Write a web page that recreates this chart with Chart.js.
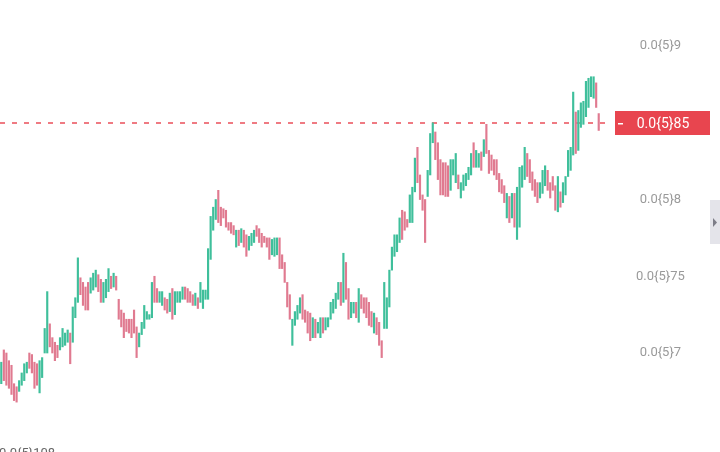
<!DOCTYPE html>
<html>
<head>
<meta charset="utf-8">
<script src="https://cdn.jsdelivr.net/npm/chart.js@4/dist/chart.umd.min.js"></script>
<style>
  html, body { margin: 0; padding: 0; background: #fff; }
  canvas { display: block; }
</style>
</head>
<body>
<canvas id="chart" width="720" height="452"></canvas>
<script>
// prices in units of 1e-6 (0.0{5}85 = 0.0000085)
const highs = [
  6.94,7.02,7.00,6.95,6.92,6.80,6.78,6.82,6.87,6.93,6.94,7.00,6.99,6.94,6.93,6.95,6.97,7.16,7.40,7.19,
  7.10,7.07,7.05,7.10,7.16,7.13,7.15,7.13,7.30,7.36,7.62,7.49,7.46,7.43,7.46,7.49,7.52,7.54,7.51,7.48,
  7.46,7.48,7.55,7.50,7.52,7.50,7.35,7.28,7.26,7.22,7.22,7.22,7.28,7.17,7.13,7.20,7.31,7.27,7.25,7.46,
  7.50,7.42,7.40,7.40,7.36,7.35,7.39,7.42,7.40,7.40,7.40,7.43,7.43,7.42,7.40,7.38,7.39,7.36,7.46,7.41,
  7.41,7.68,7.89,7.95,8.00,8.06,7.95,7.94,7.93,7.85,7.85,7.83,7.80,7.80,7.81,7.80,7.77,7.76,7.78,7.80,
  7.83,7.81,7.78,7.76,7.75,7.75,7.74,7.75,7.75,7.75,7.64,7.59,7.46,7.38,7.22,7.27,7.31,7.36,7.38,7.28,
  7.27,7.26,7.23,7.22,7.20,7.23,7.23,7.23,7.23,7.33,7.35,7.39,7.46,7.46,7.65,7.59,7.42,7.33,7.33,7.33,
  7.42,7.38,7.36,7.36,7.33,7.27,7.26,7.23,7.20,7.08,7.46,7.36,7.54,7.69,7.77,7.77,7.88,7.93,7.92,7.87,
  8.03,8.08,8.27,8.34,8.16,8.03,8.00,8.19,8.43,8.50,8.44,8.37,8.26,8.24,8.24,8.22,8.26,8.26,8.30,8.16,
  8.11,8.16,8.17,8.21,8.30,8.37,8.32,8.30,8.31,8.39,8.49,8.32,8.29,8.26,8.26,8.17,8.13,8.09,8.04,8.02,
  8.04,8.04,8.08,8.21,8.22,8.34,8.30,8.26,8.18,8.13,8.11,8.11,8.19,8.22,8.19,8.11,8.15,8.09,8.15,8.05,
  8.11,8.15,8.32,8.34,8.70,8.57,8.58,8.63,8.64,8.77,8.79,8.80,8.80,8.76,8.56
];
const lows = [
  6.80,6.82,6.79,6.77,6.73,6.69,6.68,6.75,6.79,6.82,6.87,6.90,6.87,6.77,6.79,6.74,6.84,7.00,7.00,7.04,
  7.00,6.95,6.97,7.02,7.04,7.05,7.07,6.93,7.07,7.23,7.33,7.38,7.31,7.28,7.28,7.39,7.41,7.43,7.40,7.33,
  7.33,7.36,7.40,7.42,7.43,7.41,7.22,7.17,7.10,7.14,7.13,7.10,7.13,6.97,7.04,7.12,7.16,7.22,7.22,7.23,
  7.33,7.33,7.33,7.31,7.28,7.26,7.27,7.22,7.25,7.33,7.33,7.35,7.35,7.33,7.33,7.31,7.31,7.29,7.33,7.29,
  7.35,7.35,7.61,7.80,7.87,7.85,7.83,7.88,7.82,7.80,7.78,7.77,7.69,7.70,7.72,7.69,7.63,7.67,7.70,7.72,
  7.76,7.72,7.69,7.72,7.69,7.61,7.64,7.63,7.64,7.55,7.55,7.46,7.30,7.22,7.05,7.18,7.22,7.26,7.22,7.20,
  7.13,7.08,7.10,7.10,7.13,7.10,7.13,7.15,7.17,7.22,7.26,7.29,7.35,7.31,7.33,7.35,7.22,7.23,7.26,7.23,
  7.20,7.29,7.26,7.23,7.18,7.17,7.13,7.12,7.05,6.97,7.16,7.16,7.30,7.54,7.63,7.66,7.72,7.74,7.80,7.82,
  7.85,7.85,8.05,8.11,8.00,7.93,7.72,8.02,8.16,8.37,8.26,8.13,8.03,8.03,8.02,8.02,8.06,8.16,8.11,8.07,
  8.01,8.06,8.09,8.13,8.16,8.21,8.21,8.21,8.19,8.28,8.30,8.17,8.19,8.16,8.13,8.05,8.04,7.98,7.88,7.85,
  7.88,7.82,7.74,7.82,8.08,8.13,8.15,8.11,8.06,8.02,7.98,8.01,8.04,8.09,8.06,8.01,8.06,7.93,7.92,7.95,
  7.98,8.03,8.15,8.19,8.29,8.30,8.32,8.47,8.49,8.54,8.60,8.67,8.66,8.60,8.45
];
// u = closed up (green), d = closed down (red)
const direction = (
  "udddddduuuudddduuuud" + "ddduuuuduuudddduuudd" + "uuududdddddddduuuuuu" +
  "dduudduduuuudddduduu" + "uuuuudddddddududduuu" + "dddddduuuddddduuuudd" +
  "dduduuduuuuuududduud" + "uddddduddduuuuuuuddd" + "uuudddduuudddddduuud" +
  "uuuuuduududdddddddud" + "uduuuuddddduuuddddud" + "uuuuuduuuuuuudd"
).split("");

const tickValues = [7, 7.5, 8, 9];
const lastPrice = 8.5;

const upColor = "#3fbf9b";
const downColor = "#e07a90";

function fmt(v) {
  return "0.0{5}" + String(v).replace(".", "");
}

const overlay = {
  id: "overlay",
  beforeDatasetsDraw(chart) {
    const { ctx, scales: { y } } = chart;
    const py = Math.round(y.getPixelForValue(lastPrice));
    ctx.save();
    ctx.strokeStyle = "#ea4f5a";
    ctx.lineWidth = 1.5;
    ctx.setLineDash([5, 7]);
    ctx.beginPath();
    ctx.moveTo(0, py);
    ctx.lineTo(608, py);
    ctx.stroke();
    ctx.restore();
  },
  afterDraw(chart) {
    const { ctx, scales: { y } } = chart;
    const py = Math.round(y.getPixelForValue(lastPrice));
    ctx.save();
    // current price label
    ctx.fillStyle = "#e8454f";
    ctx.fillRect(615, py - 12, 95, 24);
    ctx.fillStyle = "#fff";
    ctx.fillRect(618, py, 5, 1.5);
    ctx.font = "14px Roboto";
    ctx.textAlign = "center";
    ctx.textBaseline = "middle";
    ctx.fillText(fmt(lastPrice), 663, py + 1);
    // little scroll tab at the right edge
    ctx.fillStyle = "#e4e4ea";
    ctx.fillRect(710, 200, 10, 44);
    ctx.fillStyle = "#7d7d88";
    ctx.beginPath();
    ctx.moveTo(713, 218);
    ctx.lineTo(717, 222.5);
    ctx.lineTo(713, 227);
    ctx.closePath();
    ctx.fill();
    // cut-off label at the bottom
    ctx.fillStyle = "#666";
    ctx.font = "13px Roboto";
    ctx.textAlign = "left";
    ctx.textBaseline = "top";
    ctx.fillText("0.0{5}108", -1, 447);
    ctx.restore();
  }
};

new Chart(document.getElementById("chart"), {
  type: "bar",
  data: {
    labels: highs.map((_, i) => i + 1),
    datasets: [{
      data: highs.map((h, i) => [lows[i], h]),
      backgroundColor: direction.map(d => d === "u" ? upColor : downColor),
      borderWidth: 0,
      barThickness: 1.5
    }]
  },
  options: {
    responsive: false,
    animation: false,
    layout: { padding: 0 },
    plugins: {
      legend: { display: false },
      tooltip: { enabled: false }
    },
    scales: {
      x: { display: false },
      y: {
        position: "right",
        min: 6.355,
        max: 9.30,
        grid: { display: false, drawTicks: false },
        border: { display: false },
        afterBuildTicks: s => { s.ticks = tickValues.map(v => ({ value: v })); },
        afterFit: s => { s.width = 120; s.paddingTop = 0; s.paddingBottom = 0; },
        ticks: {
          crossAlign: "center",
          padding: 36,
          color: "#9a9a9a",
          font: { family: "Roboto", size: 13 },
          callback: v => fmt(v)
        }
      }
    }
  },
  plugins: [overlay]
});
</script>
</body>
</html>
